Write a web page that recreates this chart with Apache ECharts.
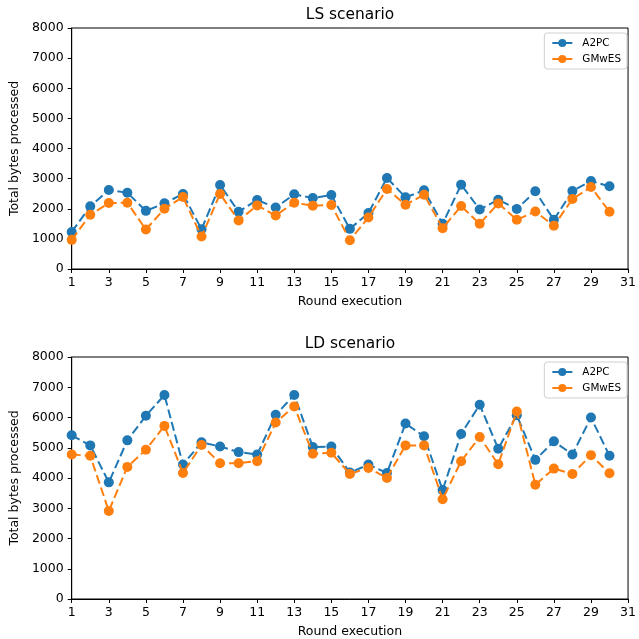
<!DOCTYPE html>
<html><head><meta charset="utf-8">
<script src="https://cdn.jsdelivr.net/npm/echarts@6/dist/echarts.min.js"></script>
<style>html,body{margin:0;padding:0;background:#fff}#c{width:639px;height:639px}</style>
</head><body><div id="c"></div>
<script>
const rounds = Array.from({length: 30}, (_, i) => i + 1);
const lsA2PC = [1230, 2080, 2620, 2530, 1930, 2180, 2490, 1320, 2790, 1900, 2290, 2040, 2480, 2356, 2456, 1333, 1856, 3022, 2378, 2611, 1500, 2800, 1978, 2300, 1989, 2578, 1633, 2589, 2922, 2744];
const lsGMwES = [967, 1800, 2189, 2200, 1311, 2000, 2389, 1078, 2489, 1611, 2111, 1778, 2200, 2100, 2122, 956, 1711, 2656, 2133, 2467, 1356, 2089, 1500, 2178, 1633, 1911, 1433, 2322, 2722, 1900];
const ldA2PC = [5411, 5078, 3856, 5244, 6056, 6744, 4444, 5178, 5044, 4856, 4778, 6089, 6744, 5022, 5044, 4178, 4444, 4167, 5800, 5378, 3600, 5456, 6422, 4967, 6078, 4600, 5211, 4778, 6000, 4733];
const ldGMwES = [4778, 4733, 2911, 4367, 4933, 5722, 4167, 5089, 4489, 4489, 4556, 5833, 6367, 4800, 4833, 4133, 4333, 4000, 5078, 5078, 3300, 4556, 5356, 4456, 6200, 3778, 4311, 4133, 4756, 4156];
const titles = ['LS scenario', 'LD scenario'];
const seriesNames = ['A2PC', 'GMwES'];
const colors = ['#1f77b4', '#ff7f0e'];

const FONT = 'DejaVu Sans';
const pair = (xs, ys) => xs.map((x, i) => [x, ys[i]]);
const grids = [
  {left: 70, right: 9, top: 28, height: 241},
  {left: 70, right: 9, top: 357, height: 242}
];
function xAxis(gi) {
  return {type: 'value', gridIndex: gi, min: 1, max: 31, interval: 2,
    name: 'Round execution', nameLocation: 'middle', nameGap: 26,
    nameTextStyle: {fontFamily: FONT, fontSize: 12.5, color: '#000'},
    axisLine: {show: true, onZero: false, lineStyle: {color: '#000', width: 1}},
    axisTick: {show: true, inside: false, length: 4, lineStyle: {color: '#000'}},
    axisLabel: {fontFamily: FONT, fontSize: 12.5, color: '#000', margin: 7},
    splitLine: {show: false}};
}
function yAxis(gi) {
  return {type: 'value', gridIndex: gi, min: 0, max: 8000, interval: 1000,
    name: 'Total bytes processed', nameLocation: 'middle', nameGap: 49, nameRotate: 90,
    nameTextStyle: {fontFamily: FONT, fontSize: 12.5, color: '#000'},
    axisLine: {show: true, onZero: false, lineStyle: {color: '#000', width: 1}},
    axisTick: {show: true, inside: false, length: 4, lineStyle: {color: '#000'}},
    axisLabel: {fontFamily: FONT, fontSize: 12.5, color: '#000', margin: 8, formatter: v => String(v)},
    splitLine: {show: false}};
}
function mkSeries(name, data, gi, ci) {
  return {type: 'line', name: name, xAxisIndex: gi, yAxisIndex: gi,
    data: pair(rounds, data), symbol: 'circle', symbolSize: 10,
    itemStyle: {color: colors[ci]},
    lineStyle: {color: colors[ci], width: 2, type: [9, 4]},
    animation: false, z: 2 + ci};
}
function legend(top) {
  return {data: seriesNames, right: 12, top: top, orient: 'vertical', itemWidth: 20, itemHeight: 10, itemGap: 6,
    backgroundColor: '#fff', borderColor: '#d0d0d0', borderWidth: 1, borderRadius: 3, padding: [5, 6, 5, 7],
    textStyle: {fontFamily: FONT, fontSize: 10.4, color: '#000', padding: [0, 0, 0, 5]}};
}
const option = {
  backgroundColor: '#fff',
  animation: false,
  graphic: [
    {type: 'text', x: 350, y: 15, style: {text: titles[0], textAlign: 'center', textVerticalAlign: 'middle', fontFamily: FONT, fontSize: 15.4, fill: '#000'}},
    {type: 'text', x: 350, y: 344, style: {text: titles[1], textAlign: 'center', textVerticalAlign: 'middle', fontFamily: FONT, fontSize: 15.4, fill: '#000'}}
  ],
  grid: grids.map(g => Object.assign({show: true, borderColor: '#000', borderWidth: 1, backgroundColor: 'transparent'}, g)),
  legend: [legend(33), legend(362)],
  xAxis: [xAxis(0), xAxis(1)],
  yAxis: [yAxis(0), yAxis(1)],
  series: [
    mkSeries(seriesNames[0], lsA2PC, 0, 0),
    mkSeries(seriesNames[1], lsGMwES, 0, 1),
    mkSeries(seriesNames[0], ldA2PC, 1, 0),
    mkSeries(seriesNames[1], ldGMwES, 1, 1)
  ]
};
const chart = echarts.init(document.getElementById('c'), null, {renderer: 'canvas'});
chart.setOption(option);
</script></body></html>
